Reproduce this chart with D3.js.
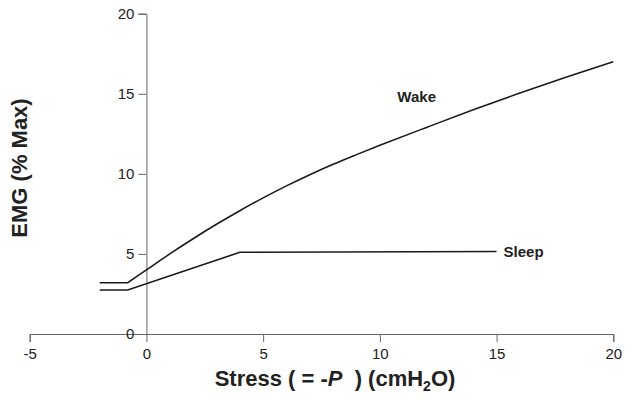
<!DOCTYPE html>
<html>
<head>
<meta charset="utf-8">
<script src="https://cdn.jsdelivr.net/npm/d3@7"></script>
<style>
  html, body { margin: 0; padding: 0; background: #fff; }
  svg { display: block; font-family: "Liberation Sans", Arial, sans-serif; }
</style>
</head>
<body>
<svg id="chart" width="632" height="400"></svg>
<script>
// ---- data ----
const wakeStress = [-2, -0.8, 0, 1, 2, 3, 4, 5, 6, 7, 8, 9, 10, 12, 14, 16, 18, 20];
const wakeEMG    = [3.2, 3.2, 4.0, 5.0, 5.95, 6.85, 7.7, 8.5, 9.25, 9.95, 10.6, 11.2, 11.78, 12.9, 14.0, 15.05, 16.05, 17.0];
const sleepStress = [-2, -0.8, 4, 15];
const sleepEMG    = [2.75, 2.75, 5.1, 5.15];
const xTicks = [-5, 0, 5, 10, 15, 20];
const yTicks = [0, 5, 10, 15, 20];
const seriesNames = ["Wake", "Sleep"];

const svg = d3.select("#chart");
const x = d3.scaleLinear().domain([-5, 20]).range([29.7, 613.3]);
const y = d3.scaleLinear().domain([0, 20]).range([334, 13.7]);

const axisColor = "#666";
const textColor = "#222";
const fmt = d => String(d); // plain hyphen-minus as in the reference

// X axis
const gx = svg.append("g")
  .attr("transform", `translate(0,${y(0)})`)
  .call(d3.axisBottom(x).tickValues(xTicks).tickSizeOuter(0).tickSize(8).tickPadding(6).tickFormat(fmt));
gx.select(".domain").attr("stroke", axisColor);
gx.selectAll(".tick line").attr("stroke", axisColor);
gx.selectAll(".tick text").attr("fill", textColor).style("font-size", "15px").style("font-family", '"Liberation Sans", Arial, sans-serif');

// Y axis
const gy = svg.append("g")
  .attr("transform", `translate(${x(0)},0)`)
  .call(d3.axisLeft(y).tickValues(yTicks).tickSizeOuter(0).tickSize(8).tickPadding(4).tickFormat(fmt));
gy.select(".domain").attr("stroke", axisColor);
gy.selectAll(".tick line").attr("stroke", axisColor);
gy.selectAll(".tick text").attr("fill", textColor).style("font-size", "15px").style("font-family", '"Liberation Sans", Arial, sans-serif');

// Lines
const lineStraight = d3.line().x(d => x(d[0])).y(d => y(d[1]));
const lineSmooth = d3.line().x(d => x(d[0])).y(d => y(d[1])).curve(d3.curveMonotoneX);
const wake = wakeStress.map((s, i) => [s, wakeEMG[i]]);
const sleep = sleepStress.map((s, i) => [s, sleepEMG[i]]);

// wake: flat baseline segment, then smooth rising curve (sharp corner at the knee)
const wakePath = lineStraight(wake.slice(0, 2)) + lineSmooth(wake.slice(1)).replace(/^M/, "L");
svg.append("path").attr("d", wakePath)
  .attr("fill", "none").attr("stroke", "#1a1a1a").attr("stroke-width", 1.6);
svg.append("path").datum(sleep).attr("d", lineStraight)
  .attr("fill", "none").attr("stroke", "#1a1a1a").attr("stroke-width", 1.6);

// Series labels
svg.append("text")
  .attr("x", x(10.75)).attr("y", y(14.8)).attr("dy", "0.35em")
  .attr("fill", textColor).style("font-size", "15px").style("font-weight", "bold")
  .text(seriesNames[0]);
const lastSleep = sleep[sleep.length - 1];
svg.append("text")
  .attr("x", x(lastSleep[0]) + 7).attr("y", y(lastSleep[1])).attr("dy", "0.35em")
  .attr("fill", textColor).style("font-size", "15px").style("font-weight", "bold")
  .text(seriesNames[1]);

// Axis titles
const xt = svg.append("text")
  .attr("x", 335).attr("y", 386).attr("text-anchor", "middle")
  .attr("fill", textColor).style("font-size", "22px").style("font-weight", "bold");
xt.append("tspan").text("Stress ( = -");
xt.append("tspan").style("font-style", "italic").text("P");
xt.append("tspan").text("\u00a0\u00a0) (cmH");
xt.append("tspan").attr("dy", 5).style("font-size", "14px").text("2");
xt.append("tspan").attr("dy", -5).text("O)");

svg.append("text")
  .attr("transform", "translate(27,168) rotate(-90)")
  .attr("text-anchor", "middle")
  .attr("fill", textColor).style("font-size", "22px").style("font-weight", "bold")
  .text("EMG (% Max)");
</script>
</body>
</html>
